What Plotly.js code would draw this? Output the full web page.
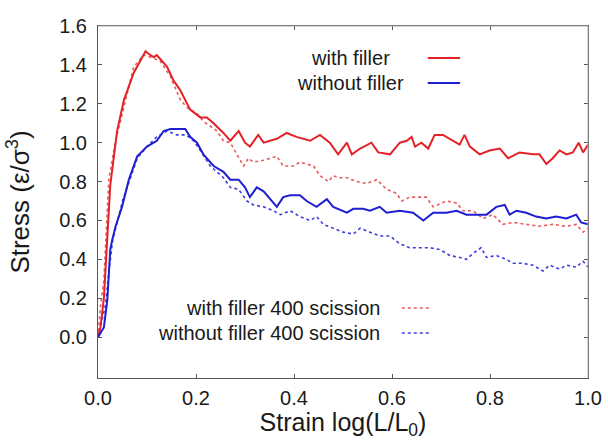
<!DOCTYPE html>
<html>
<head>
<meta charset="utf-8">
<script src="https://cdn.plot.ly/plotly-3.0.1.min.js"></script>
<style>html,body{margin:0;padding:0;background:#fff;}#chart{width:608px;height:440px;}</style>
</head>
<body>
<div id="chart"></div>
<script>
// with filler (solid red)
const fillerX = [0,0.005,0.012,0.019,0.025,0.039,0.053,0.073,0.097,0.107,0.114,0.12,0.141,0.154,0.168,0.188,0.209,0.222,0.236,0.256,0.27,0.287,0.30,0.31,0.327,0.338,0.365,0.385,0.405,0.433,0.453,0.473,0.49,0.508,0.518,0.535,0.558,0.572,0.596,0.616,0.63,0.64,0.647,0.66,0.674,0.687,0.704,0.738,0.748,0.759,0.779,0.799,0.82,0.837,0.86,0.888,0.901,0.915,0.928,0.942,0.956,0.969,0.981,0.99,1.0];
const fillerY = [0,0.05,0.2,0.5,0.78,1.06,1.22,1.36,1.47,1.45,1.44,1.45,1.39,1.32,1.27,1.17,1.13,1.13,1.10,1.05,1.01,1.06,1.0,0.98,1.04,1.0,1.02,1.05,1.03,1.01,1.04,1.0,0.94,1.0,0.94,0.97,1.0,0.95,0.94,1.0,1.01,1.03,0.98,1.0,0.97,1.04,1.04,0.99,1.04,0.98,0.94,0.96,0.97,0.92,0.95,0.94,0.94,0.89,0.92,0.96,0.94,0.95,1.0,0.95,0.99];

// with filler 400 scission (dotted red)
const fillerScX = [0,0.005,0.012,0.015,0.022,0.036,0.053,0.073,0.093,0.107,0.127,0.148,0.168,0.182,0.202,0.215,0.243,0.256,0.27,0.283,0.297,0.307,0.317,0.338,0.365,0.378,0.399,0.412,0.44,0.453,0.47,0.48,0.494,0.508,0.528,0.548,0.569,0.589,0.609,0.62,0.636,0.67,0.684,0.711,0.732,0.745,0.765,0.786,0.806,0.826,0.847,0.874,0.901,0.928,0.956,0.976,0.99,1.0];
const fillerScY = [0,0.16,0.29,0.46,0.81,1.01,1.18,1.39,1.45,1.44,1.42,1.34,1.22,1.18,1.15,1.11,1.06,1.01,1.0,0.94,0.88,0.92,0.90,0.91,0.93,0.88,0.88,0.90,0.88,0.83,0.80,0.83,0.82,0.82,0.80,0.79,0.81,0.76,0.74,0.70,0.72,0.72,0.67,0.70,0.69,0.65,0.65,0.61,0.63,0.58,0.59,0.58,0.57,0.58,0.57,0.58,0.54,0.56];

// without filler (solid blue)
const noFillerX = [0,0.012,0.019,0.022,0.025,0.029,0.036,0.049,0.063,0.08,0.10,0.12,0.134,0.148,0.168,0.178,0.188,0.202,0.215,0.236,0.256,0.27,0.287,0.30,0.31,0.324,0.338,0.351,0.365,0.378,0.392,0.412,0.426,0.446,0.467,0.48,0.508,0.521,0.541,0.555,0.575,0.589,0.616,0.643,0.664,0.684,0.711,0.732,0.752,0.772,0.793,0.813,0.83,0.84,0.854,0.874,0.894,0.915,0.935,0.956,0.976,0.986,1.0];
const noFillerY = [0,0.05,0.19,0.33,0.45,0.50,0.57,0.67,0.81,0.93,0.98,1.01,1.06,1.07,1.07,1.07,1.03,1.0,0.94,0.88,0.85,0.81,0.81,0.77,0.72,0.77,0.75,0.71,0.67,0.72,0.73,0.73,0.70,0.67,0.71,0.67,0.64,0.66,0.66,0.65,0.67,0.64,0.65,0.64,0.60,0.64,0.64,0.65,0.63,0.63,0.63,0.67,0.68,0.63,0.65,0.64,0.62,0.61,0.62,0.61,0.63,0.59,0.58];

// without filler 400 scission (dotted blue)
const noFillerScX = [0,0.002,0.015,0.022,0.03,0.05,0.08,0.10,0.12,0.141,0.161,0.18,0.195,0.209,0.229,0.256,0.27,0.287,0.304,0.317,0.338,0.358,0.372,0.392,0.412,0.433,0.446,0.46,0.48,0.50,0.521,0.535,0.555,0.575,0.596,0.616,0.636,0.657,0.677,0.698,0.718,0.738,0.752,0.765,0.782,0.793,0.813,0.833,0.847,0.867,0.888,0.908,0.922,0.942,0.956,0.976,0.99,1.0];
const noFillerScY = [0,0.02,0.16,0.33,0.50,0.70,0.92,0.98,1.03,1.06,1.04,1.04,1.01,0.96,0.88,0.82,0.77,0.76,0.70,0.68,0.67,0.65,0.63,0.65,0.62,0.60,0.62,0.58,0.56,0.54,0.53,0.56,0.54,0.52,0.52,0.48,0.46,0.46,0.46,0.45,0.42,0.41,0.40,0.43,0.46,0.41,0.42,0.40,0.38,0.38,0.37,0.34,0.37,0.35,0.37,0.36,0.39,0.36];

const seriesNames = ["with filler","without filler","with filler 400 scission","without filler 400 scission"];
const xTicks = [0,0.2,0.4,0.6,0.8,1.0];
const xTickText = ["0.0","0.2","0.4","0.6","0.8","1.0"];
const yTicks = [0,0.2,0.4,0.6,0.8,1.0,1.2,1.4,1.6];
const yTickText = ["0.0","0.2","0.4","0.6","0.8","1.0","1.2","1.4","1.6"];

const RED = "#e32228", BLUE = "#1e1ed2", RED_D = "#e85a5a", BLUE_D = "#3c3ce0";
const FONT = "Liberation Sans, Arial, sans-serif";

const traces = [
  {x: fillerScX, y: fillerScY, name: seriesNames[2], mode: "lines", line: {color: RED_D, width: 1.6, dash: "dot"}},
  {x: noFillerScX, y: noFillerScY, name: seriesNames[3], mode: "lines", line: {color: BLUE_D, width: 1.6, dash: "dot"}},
  {x: fillerX, y: fillerY, name: seriesNames[0], mode: "lines", line: {color: RED, width: 2}},
  {x: noFillerX, y: noFillerY, name: seriesNames[1], mode: "lines", line: {color: BLUE, width: 2}}
];

function legendLine(x0, x1, y, color, dash, w) {
  return {type: "line", xref: "paper", yref: "paper", x0: x0, x1: x1, y0: y, y1: y, line: {color: color, width: w, dash: dash}};
}
function legendText(x, y, text, anchor) {
  return {xref: "paper", yref: "paper", x: x, y: y, text: text, showarrow: false, xanchor: anchor, yanchor: "middle", font: {family: FONT, size: 20, color: "#1a1a1a"}};
}

const layout = {
  width: 608, height: 440,
  margin: {l: 98, r: 20, t: 26, b: 62},
  paper_bgcolor: "#fff", plot_bgcolor: "#fff",
  showlegend: false,
  font: {family: FONT, color: "#1a1a1a"},
  xaxis: {
    range: [0, 1], tickvals: xTicks, ticktext: xTickText,
    ticks: "inside", ticklen: 4, tickcolor: "#555", tickwidth: 1,
    showline: true, linecolor: "#555", linewidth: 1, mirror: "ticks",
    showgrid: false, zeroline: false,
    tickfont: {family: FONT, size: 20, color: "#1a1a1a"}, ticklabelstandoff: 2,
    title: {text: "Strain log(L/L<sub>0</sub>)", font: {family: FONT, size: 25, color: "#1a1a1a"}, standoff: 14}
  },
  yaxis: {
    range: [-0.21, 1.6], tickvals: yTicks, ticktext: yTickText,
    ticks: "inside", ticklen: 4, tickcolor: "#555", tickwidth: 1,
    showline: true, linecolor: "#555", linewidth: 1, mirror: "ticks",
    showgrid: false, zeroline: false,
    tickfont: {family: FONT, size: 20, color: "#1a1a1a"}, ticklabelstandoff: 6,
    title: {text: "Stress (ε/σ<sup>3</sup>)", font: {family: FONT, size: 26, color: "#1a1a1a"}, standoff: 22}
  },
  shapes: [
    {type: "line", xref: "paper", yref: "paper", x0: 0, x1: 1, y0: 1, y1: 1, line: {color: "#aaa", width: 1}},
    {type: "line", xref: "paper", yref: "paper", x0: 1, x1: 1, y0: 0, y1: 1, line: {color: "#aaa", width: 1}},
    legendLine(0.673, 0.739, 0.909, RED, "solid", 2),
    legendLine(0.673, 0.739, 0.838, BLUE, "solid", 2),
    legendLine(0.620, 0.678, 0.199, RED_D, "dot", 1.6),
    legendLine(0.620, 0.678, 0.128, BLUE_D, "dot", 1.6)
  ],
  annotations: [
    legendText(0.516, 0.909, seriesNames[0], "center"),
    legendText(0.516, 0.838, seriesNames[1], "center"),
    legendText(0.579, 0.199, seriesNames[2], "right"),
    legendText(0.579, 0.128, seriesNames[3], "right")
  ]
};

Plotly.newPlot("chart", traces, layout, {staticPlot: true, displayModeBar: false});
</script>
</body>
</html>
